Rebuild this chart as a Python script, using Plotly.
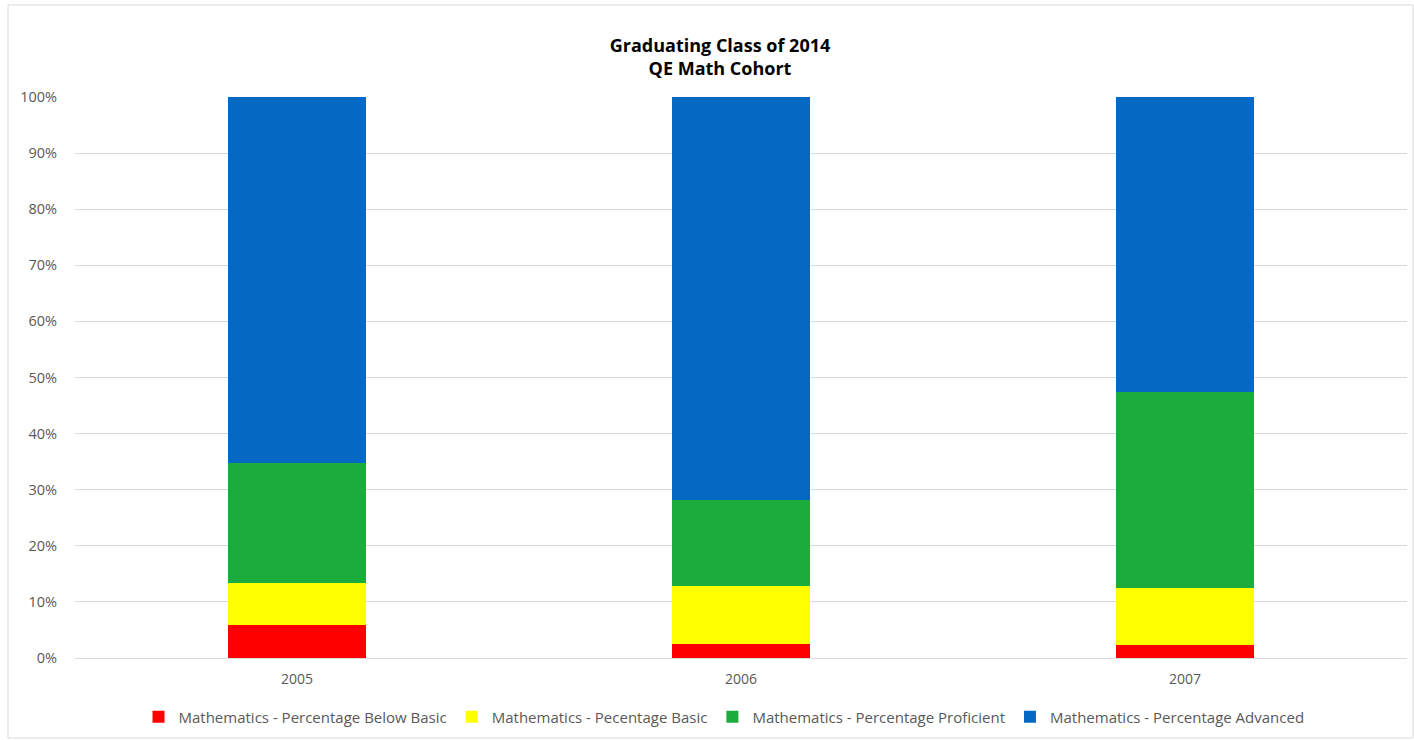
import plotly.graph_objects as go

years = ["2005", "2006", "2007"]
below_basic = [0.058, 0.025, 0.024]
basic = [0.076, 0.104, 0.101]
proficient = [0.213, 0.153, 0.350]
advanced = [0.653, 0.718, 0.525]

series_names = [
    "Mathematics - Percentage Below Basic",
    "Mathematics - Pecentage Basic",
    "Mathematics - Percentage Proficient",
    "Mathematics - Percentage Advanced",
]
series_values = [below_basic, basic, proficient, advanced]
colors = ["#FE0000", "#FFFF00", "#1BAC3C", "#0569C4"]

W, H = 1414, 740
L, R, T, B = 75, W - 1407, 97, H - 658

fig = go.Figure()
for name, vals, c in zip(series_names, series_values, colors):
    fig.add_trace(go.Bar(x=years, y=vals, name=name, marker=dict(color=c, line=dict(width=0))))

pw = W - L - R
ph = H - T - B
def px_x(p):
    return (p - L) / pw
def px_y(p):
    return (H - B - p) / ph

font_family = "Open Sans, Liberation Sans, sans-serif"

fig.update_layout(
    width=W, height=H,
    barmode="stack",
    bargap=0.687,
    plot_bgcolor="white",
    paper_bgcolor="white",
    margin=dict(l=L, r=R, t=T, b=B, pad=0, autoexpand=False),
    font=dict(family=font_family, color="#595959", size=14),
    title=dict(
        text="<b>Graduating Class of 2014<br>QE Math Cohort</b>",
        x=720 / W, xanchor="center", xref="container",
        y=1 - 52 / H, yanchor="top", yref="container",
        font=dict(size=18, color="#000000", family=font_family),
    ),
    xaxis=dict(
        showgrid=False, showline=False, ticks="",
        tickfont=dict(size=14, color="#595959"),
        ticklabelstandoff=11,
    ),
    yaxis=dict(
        range=[0, 1], tickformat=".0%", dtick=0.1,
        showgrid=True, gridcolor="#D9D9D9", gridwidth=1,
        zeroline=True, zerolinecolor="#D9D9D9", zerolinewidth=1,
        showline=False, ticks="",
        tickfont=dict(size=14.5, color="#595959"),
        ticklabelstandoff=17,
    ),
    legend=dict(
        orientation="h", x=px_x(724), xref="paper", xanchor="center",
        y=px_y(717), yref="paper", yanchor="middle",
        font=dict(size=15, color="#595959"),
        traceorder="normal",
        itemwidth=30,
    ),
    showlegend=True,
)

fig.add_shape(
    type="rect", xref="paper", yref="paper",
    x0=px_x(8), x1=px_x(1413), y0=px_y(738), y1=px_y(5),
    line=dict(color="#D9D9D9", width=1), fillcolor="rgba(0,0,0,0)", layer="below",
)

fig.write_html("out.html", config={"displayModeBar": False},
               post_script="document.body.style.margin='0';")
